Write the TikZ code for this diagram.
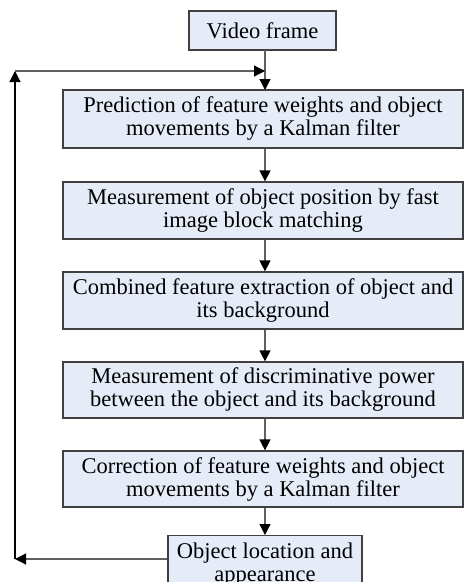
\documentclass[tikz,border=0pt]{standalone}
\usepackage{fontspec}
\setmainfont{Liberation Serif}
\usetikzlibrary{arrows.meta,calc}
\definecolor{boxfill}{HTML}{E6ECF7}
\definecolor{boxline}{HTML}{404040}
\definecolor{conn}{HTML}{606060}
\tikzset{
  stepbox/.style={draw=boxline, fill=boxfill, line width=1.2pt, align=center, inner sep=0pt,
    font=\fontsize{22.5}{23}\selectfont},
  conn/.style={draw=conn, line width=1.2pt, -{Triangle[length=11pt,width=11pt,color=black]}},
}
\begin{document}
\begin{tikzpicture}[x=1pt,y=-1pt]
\useasboundingbox (0,0) rectangle (465,582);
\begin{scope}
\clip (0,0) rectangle (465,582);
\node[stepbox, minimum width=147pt, minimum height=39pt] (video) at (262.5,30.5) {Video frame};
\node[stepbox, minimum width=400pt, minimum height=58pt] (b1) at (263,119) {Prediction of feature weights and object\\movements by a Kalman filter};
\node[stepbox, minimum width=400pt, minimum height=57pt] (b2) at (263,210.5) {Measurement of object position by fast\\image block matching};
\node[stepbox, minimum width=400pt, minimum height=57pt] (b3) at (263,300.5) {Combined feature extraction of object and\\its background};
\node[stepbox, minimum width=400pt, minimum height=56pt] (b4) at (263,390) {Measurement of discriminative power\\between the object and its background};
\node[stepbox, minimum width=400pt, minimum height=56pt] (b5) at (263,479) {Correction of feature weights and object\\movements by a Kalman filter};
\node[stepbox, minimum width=194pt, minimum height=58pt, anchor=north] (obj) at (265,535) {Object location and\\appearance};
\coordinate (vtop) at (265,50);
\coordinate (c1) at (265,90);
\coordinate (ltop) at (15,71);
\coordinate (lbot) at (15,559);
\coordinate (join) at (265,71);
\draw[conn] (vtop) -- (c1);
\draw[conn] (b1.south -| vtop) -- (b2.north -| vtop);
\draw[conn] (b2.south -| vtop) -- (b3.north -| vtop);
\draw[conn] (b3.south -| vtop) -- (b4.north -| vtop);
\draw[conn] (b4.south -| vtop) -- (b5.north -| vtop);
\draw[conn] (b5.south -| vtop) -- (obj.north -| vtop);
\draw[conn] (obj.west |- lbot) -- (lbot);
\draw[conn, draw=black] (lbot) -- (ltop);
\draw[conn] (ltop) -- (join);
\end{scope}
\end{tikzpicture}
\end{document}
